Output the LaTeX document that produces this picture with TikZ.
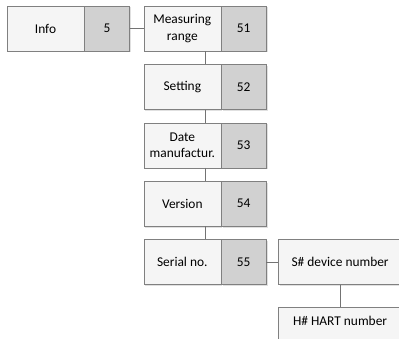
\documentclass[tikz,border=0pt]{standalone}
\usepackage{fontspec}
\setmainfont{Carlito}
\usetikzlibrary{positioning, calc, shadows}

\begin{document}
\begin{tikzpicture}[
    font=\fontsize{13.4pt}{16.3pt}\selectfont,
    lblbox/.style={draw=black!50, fill=black!4, minimum width=77pt,
                   minimum height=45pt, inner sep=1pt, align=center,
                   drop shadow={shadow xshift=1.5pt, shadow yshift=-1.5pt,
                                fill=black, opacity=0.12}},
    numbox/.style={lblbox, fill=black!18, minimum width=45pt},
    widebox/.style={lblbox, minimum width=123pt},
    conn/.style={draw=black!55, line width=0.6pt},
  ]
  \clip (0,0) rectangle (399pt,-339pt);
  %% Info row
  \node[lblbox] (info) at (45.5pt,-28.5pt) {Info};
  \node[numbox, right=0pt of info] (n5) {5};
  %% Submenu column
  \node[lblbox, right=14pt of n5] (meas) {Measuring\\range};
  \node[numbox, right=0pt of meas] (n51) {51};
  \node[lblbox, below=13pt of meas] (sett) {Setting};
  \node[numbox, right=0pt of sett] (n52) {52};
  \node[lblbox, below=13pt of sett] (date) {Date\\manufactur.};
  \node[numbox, right=0pt of date] (n53) {53};
  \node[lblbox, below=13pt of date] (vers) {Version};
  \node[numbox, right=0pt of vers] (n54) {54};
  \node[lblbox, below=13pt of vers] (ser) {Serial no.};
  \node[numbox, right=0pt of ser] (n55) {55};
  %% Serial numbers
  \node[widebox, right=12pt of n55] (sdev) {S\# device number};
  \node[widebox, below=22pt of sdev, text height=17pt, text depth=26pt] (hart) {H\# HART number};
  %% Connectors
  \draw[conn] (n5) -- (meas);
  \draw[conn] ($(meas.south west)!0.5!(n51.south east)$) -- ($(sett.north west)!0.5!(n52.north east)$);
  \draw[conn] ($(sett.south west)!0.5!(n52.south east)$) -- ($(date.north west)!0.5!(n53.north east)$);
  \draw[conn] ($(date.south west)!0.5!(n53.south east)$) -- ($(vers.north west)!0.5!(n54.north east)$);
  \draw[conn] ($(vers.south west)!0.5!(n54.south east)$) -- ($(ser.north west)!0.5!(n55.north east)$);
  \draw[conn] (n55) -- (sdev);
  \draw[conn] (sdev) -- (hart);
\end{tikzpicture}
\end{document}
